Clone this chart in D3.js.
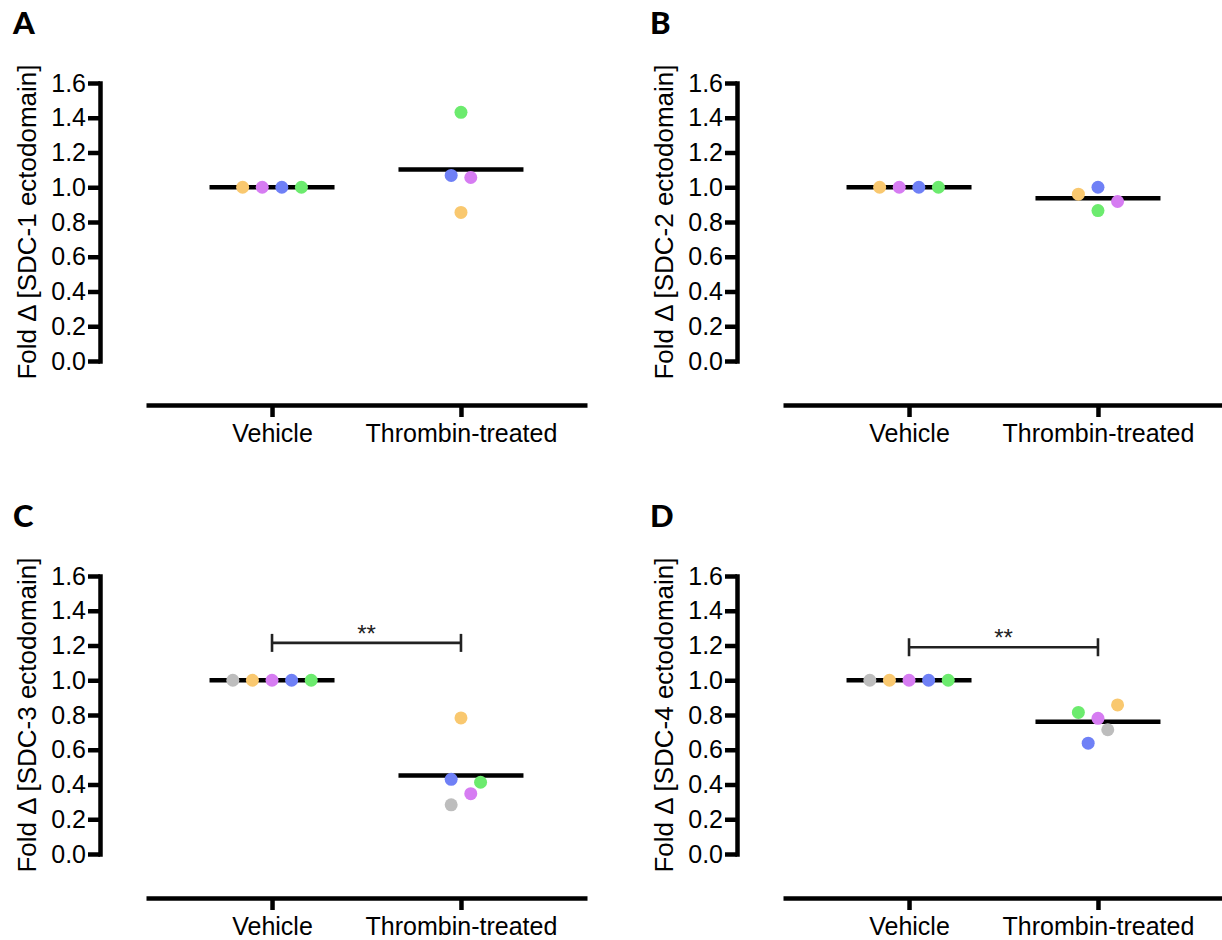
<!DOCTYPE html>
<html>
<head>
<meta charset="utf-8">
<script src="https://cdn.jsdelivr.net/npm/d3@7"></script>
<style>
  body { margin: 0; background: #fff; }
</style>
</head>
<body>
<div id="chart"></div>
<script>
// categorías y ejes
const groups = ["Vehicle", "Thrombin-treated"];
const donors = ["D1", "D2", "D3", "D4", "D5"];   // gris, naranja, violeta, azul, verde
const yTicks = [0, 0.2, 0.4, 0.6, 0.8, 1.0, 1.2, 1.4, 1.6];
const letters = ["A", "B", "C", "D"];
const markers = ["SDC-1", "SDC-2", "SDC-3", "SDC-4"];

// donantes presentes en cada panel
const donorsA = ["D2", "D3", "D4", "D5"];
const donorsB = ["D2", "D3", "D4", "D5"];
const donorsC = ["D1", "D2", "D3", "D4", "D5"];
const donorsD = ["D1", "D2", "D3", "D4", "D5"];

// valores vehicle (normalizados a 1)
const vehicleA = [1, 1, 1, 1];
const vehicleB = [1, 1, 1, 1];
const vehicleC = [1, 1, 1, 1, 1];
const vehicleD = [1, 1, 1, 1, 1];

// valores thrombin-treated (mismo orden que los donantes)
const treatedA = [0.855, 1.056, 1.068, 1.431];
const treatedB = [0.960, 0.918, 1.000, 0.866];
const treatedC = [0.283, 0.783, 0.347, 0.430, 0.413];
const treatedD = [0.715, 0.858, 0.781, 0.638, 0.815];

// columna de dispersión de cada punto tratado (en medios pasos)
const slotsA = [0, 1, -1, 0];
const slotsB = [-2, 2, 0, 0];
const slotsC = [-1, 0, 1, -1, 2];
const slotsD = [1, 2, 0, -1, -2];

// barras de significancia (null = sin barra)
const sigY = [null, null, 1.215, 1.19];
const sigLabel = ["", "", "**", "**"];

const panels = [
  { donors: donorsA, vehicle: vehicleA, treated: treatedA, slots: slotsA },
  { donors: donorsB, vehicle: vehicleB, treated: treatedB, slots: slotsB },
  { donors: donorsC, vehicle: vehicleC, treated: treatedC, slots: slotsC },
  { donors: donorsD, vehicle: vehicleD, treated: treatedD, slots: slotsD }
];

const FONT = "'Liberation Sans', Arimo, Arial, Helvetica, sans-serif";
const width = 1222, height = 940;
const svg = d3.select("#chart").append("svg")
  .attr("width", width)
  .attr("height", height);

svg.append("rect").attr("width", width).attr("height", height).attr("fill", "#fff");

const color = d3.scaleOrdinal()
  .domain(donors)
  .range(["#bdbdbd", "#f9c86f", "#d67cf2", "#6f80f6", "#6ceb6e"]);

// escalas compartidas por los cuatro paneles
const y = d3.scaleLinear().domain([0, 1.6]).range([361, 83]);
const x = d3.scalePoint().domain(groups).range([146, 587]).padding(0.667);
const jitter = d3.scaleLinear().domain([0, 1]).range([0, 9.8]);
const meanHalf = 62.5;
const r = 6.5;

panels.forEach((p, i) => {
  const g = svg.append("g")
    .attr("transform", `translate(${(i % 2) * 637},${Math.floor(i / 2) * 493})`);

  // letra del panel
  g.append("text")
    .attr("x", 13).attr("y", 34)
    .style("font-family", "Lato, 'Open Sans', sans-serif")
    .style("font-weight", 900)
    .style("font-size", "31px")
    .attr("fill", "#000")
    .text(letters[i]);

  // eje Y
  const yAxis = g.append("g")
    .attr("transform", "translate(100,0)")
    .call(d3.axisLeft(y).tickValues(yTicks).tickFormat(d3.format(".1f"))
      .tickSize(12).tickSizeOuter(0).tickPadding(2));
  yAxis.select(".domain").attr("stroke", "#000").attr("stroke-width", 4.5).attr("stroke-linecap", "square");
  yAxis.selectAll(".tick line").attr("stroke", "#000").attr("stroke-width", 4.5);
  yAxis.selectAll(".tick text")
    .style("font-family", FONT).style("font-size", "25px").attr("fill", "#000");

  // título eje Y
  g.append("text")
    .attr("transform", `translate(36,${(y(0) + y(1.6)) / 2}) rotate(-90)`)
    .attr("text-anchor", "middle")
    .style("font-family", FONT)
    .style("font-size", "26px")
    .attr("fill", "#000")
    .text(`Fold \u0394 [${markers[i]} ectodomain]`);

  // eje X
  const xAxis = g.append("g")
    .attr("transform", "translate(0,405)")
    .call(d3.axisBottom(x).tickSize(12).tickSizeOuter(0).tickPadding(7));
  xAxis.select(".domain").attr("stroke", "#000").attr("stroke-width", 4.5);
  xAxis.selectAll(".tick line").attr("stroke", "#000").attr("stroke-width", 4.5);
  xAxis.selectAll(".tick text")
    .style("font-family", FONT).style("font-size", "25px").attr("fill", "#000");

  // puntos
  const n = p.vehicle.length;
  const pts = p.vehicle.map((v, j) => ({ group: groups[0], donor: p.donors[j], value: v, slot: (j - (n - 1) / 2) * 2 }))
    .concat(p.treated.map((v, j) => ({ group: groups[1], donor: p.donors[j], value: v, slot: p.slots[j] })));

  // medias
  const means = groups.map(gr => ({ group: gr, mean: d3.mean(pts.filter(d => d.group === gr), d => d.value) }));
  g.selectAll(".mean")
    .data(means)
    .enter().append("line")
    .attr("x1", d => x(d.group) - meanHalf)
    .attr("x2", d => x(d.group) + meanHalf)
    .attr("y1", d => y(d.mean))
    .attr("y2", d => y(d.mean))
    .attr("stroke", "#000")
    .attr("stroke-width", 4.5);

  g.selectAll(".dot")
    .data(pts)
    .enter().append("circle")
    .attr("cx", d => x(d.group) + jitter(d.slot))
    .attr("cy", d => y(d.value))
    .attr("r", r)
    .attr("fill", d => color(d.donor));

  // barra de significancia
  if (sigY[i] !== null) {
    const by = y(sigY[i]);
    const x1 = x(groups[0]), x2 = x(groups[1]);
    const bar = g.append("g").attr("stroke", "#222").attr("stroke-width", 2.6);
    bar.append("line").attr("x1", x1).attr("x2", x2).attr("y1", by).attr("y2", by);
    bar.append("line").attr("x1", x1).attr("x2", x1).attr("y1", by - 9).attr("y2", by + 9);
    bar.append("line").attr("x1", x2).attr("x2", x2).attr("y1", by - 9).attr("y2", by + 9);
    g.append("text")
      .attr("x", (x1 + x2) / 2)
      .attr("y", by - 1)
      .attr("text-anchor", "middle")
      .style("font-family", FONT)
      .style("font-size", "24px")
      .attr("fill", "#222")
      .text(sigLabel[i]);
  }
});
</script>
</body>
</html>
